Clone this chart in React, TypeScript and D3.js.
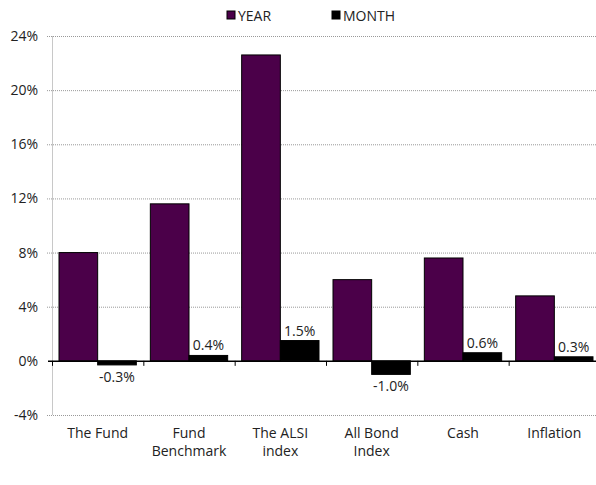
import React from "react";
import * as d3 from "d3";

const categories = ["The Fund", "Fund\nBenchmark", "The ALSI\nindex", "All Bond\nIndex", "Cash", "Inflation"];
const yearValues = [8.0, 11.6, 22.6, 6.0, 7.6, 4.8];
const monthValues = [-0.3, 0.4, 1.5, -1.0, 0.6, 0.3];
const yTicks = [-4, 0, 4, 8, 12, 16, 20, 24];
const seriesNames = ["YEAR", "MONTH"];
const seriesColors = ["#4b0049", "#000000"];

const App = () => {
  const width = 596;
  const height = 485;
  const marginLeft = 52;
  const plotRight = 600;
  const font = "'Open Sans', Lato, sans-serif";

  const x = d3.scaleBand<string>().domain(categories).range([marginLeft, plotRight]).paddingInner(0).paddingOuter(0);
  const inner = d3.scaleBand<string>().domain(seriesNames).range([7, x.bandwidth() - 7]).padding(0);
  const y = d3.scaleLinear().domain([-4, 24]).range([415, 36]);

  return (
    <svg width={width} height={height} style={{ position: "absolute", left: 0, top: 0, fontFamily: font }}>
      {/* grid lines */}
      {yTicks.filter((t) => t !== 0).map((t) => (
        <line key={t} x1={marginLeft - 5} x2={plotRight} y1={y(t) + 0.5} y2={y(t) + 0.5}
          stroke="#999" strokeWidth={1} strokeDasharray="1,1" />
      ))}
      {/* y axis */}
      <line x1={marginLeft + 0.5} x2={marginLeft + 0.5} y1={y(24)} y2={y(-4)} stroke="#c8c8c8" />
      {yTicks.map((t) => (
        <text key={t} x={38} y={y(t) + 5} textAnchor="end" fontSize={14} fill="#222">{`${t}%`}</text>
      ))}
      {/* bars */}
      {categories.map((c, i) => (
        <g key={c} transform={`translate(${x(c)},0)`}>
          {[yearValues[i], monthValues[i]].map((v, j) => (
            <rect key={j} x={inner(seriesNames[j])} width={inner.bandwidth()}
              y={Math.min(y(v), y(0))} height={Math.abs(y(v) - y(0))}
              fill={seriesColors[j]} stroke="#000" strokeWidth={1} />
          ))}
          <text x={(inner(seriesNames[1]) ?? 0) + inner.bandwidth() / 2}
            y={monthValues[i] >= 0 ? y(monthValues[i]) - 5 : y(monthValues[i]) + 17}
            textAnchor="middle" fontSize={14} fill="#222">
            {`${monthValues[i].toFixed(1)}%`}
          </text>
          <text x={x.bandwidth() / 2} y={438} textAnchor="middle" fontSize={14} fill="#222">
            {c.split("\n").map((s, k) => (
              <tspan key={k} x={x.bandwidth() / 2} dy={k === 0 ? 0 : 18}>{s}</tspan>
            ))}
          </text>
        </g>
      ))}
      {/* zero line and category ticks */}
      <line x1={marginLeft - 4} x2={plotRight} y1={y(0) + 0.5} y2={y(0) + 0.5} stroke="#000" strokeWidth={1.5} />
      {categories.map((c) => (
        <line key={c} x1={(x(c) ?? 0) + 0.5} x2={(x(c) ?? 0) + 0.5} y1={y(0)} y2={y(0) + 5} stroke="#000" />
      ))}
      {/* legend */}
      {seriesNames.map((s, i) => (
        <g key={s} transform={`translate(${227 + i * 105},11)`}>
          <rect x={0} y={0} width={8} height={8} fill={seriesColors[i]} stroke="#000" />
          <text x={11} y={10} fontSize={14} fill="#222">{s}</text>
        </g>
      ))}
    </svg>
  );
};

export default App;
